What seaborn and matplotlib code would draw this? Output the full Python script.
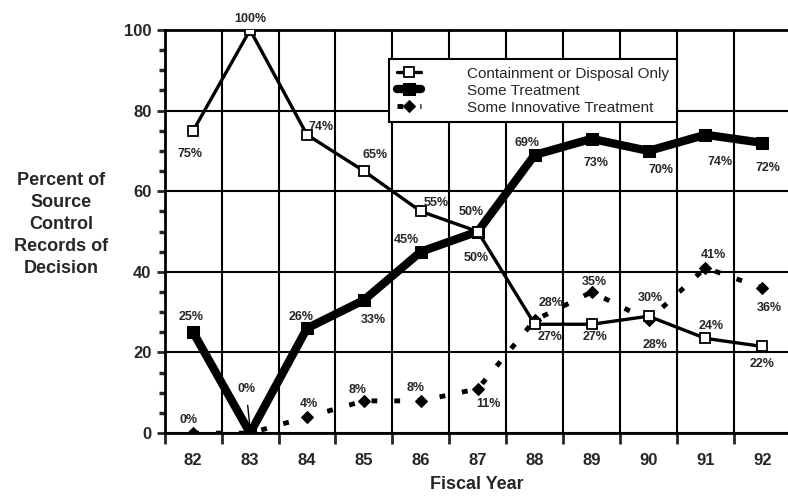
import numpy as np
import pandas as pd
import matplotlib
matplotlib.use("Agg")
import matplotlib.pyplot as plt
from matplotlib.ticker import MultipleLocator, FixedLocator
import seaborn as sns

sns.set_style("white")
plt.rcParams['font.family'] = ['Liberation Sans', 'DejaVu Sans']

years = [82, 83, 84, 85, 86, 87, 88, 89, 90, 91, 92]
containment = [75, 100, 74, 65, 55, 50, 27, 27, 29, 23.5, 21.5]
treatment = [25, 0, 26, 33, 45, 50, 69, 73, 70, 74, 72]
innovative = [0, 0, 4, 8, 8, 11, 28, 35, 28, 41, 36]

containment_lbl = ['75%', '100%', '74%', '65%', '55%', '50%', '27%', '27%', '30%', '24%', '22%']
treatment_lbl = ['25%', '', '26%', '33%', '45%', '50%', '69%', '73%', '70%', '74%', '72%']
innovative_lbl = ['0%', '', '4%', '8%', '8%', '11%', '28%', '35%', '28%', '41%', '36%']

# label offsets in pixels (dx, dy), dy positive = down
off_cont = [(-3, 23), (0, -11), (14, -8), (11, -16), (15, -8), (-7, -20), (15, 13), (3, 13), (2, -18), (6, -12), (0, 18)]
off_treat = [(-2, -15), (0, 0), (-6, -11), (9, 20), (-14, -12), (-2, 26), (-8, -12), (4, 24), (12, 19), (15, 27), (6, 25)]
off_innov = [(-5, -13), (0, 0), (2, -13), (-6, -11), (-5, -13), (11, 15), (16, -17), (3, -10), (7, 25), (8, -13), (7, 20)]

df = pd.DataFrame({'Year': years, 'Containment': containment,
                   'Treatment': treatment, 'Innovative': innovative})

fig = plt.figure(figsize=(7.88, 4.99), dpi=100)
ax = fig.add_axes([0.209, 0.132, 0.791, 0.808])

sns.lineplot(data=df, x='Year', y='Innovative', ax=ax, color='black', lw=3.5,
             dashes=False, linestyle=(0, (1.2, 3.5)), marker='D', markersize=6,
             markeredgecolor='black', label='Some Innovative Treatment', zorder=3)
sns.lineplot(data=df, x='Year', y='Treatment', ax=ax, color='black', lw=6,
             marker='s', markersize=8, markeredgecolor='black',
             label='Some Treatment', zorder=4)
sns.lineplot(data=df, x='Year', y='Containment', ax=ax, color='black', lw=2.4,
             marker='s', markersize=7, markerfacecolor='white',
             markeredgecolor='black', markeredgewidth=1.3,
             label='Containment or Disposal Only', zorder=5)

def put_labels(vals, lbls, offs):
    for x, v, t, (dx, dy) in zip(years, vals, lbls, offs):
        if t:
            ax.annotate(t, (x, v), xytext=(dx, -dy), textcoords='offset pixels',
                        ha='center', va='center', fontsize=9,
                        fontweight='bold', zorder=6)

put_labels(containment, containment_lbl, off_cont)
put_labels(treatment, treatment_lbl, off_treat)
put_labels(innovative, innovative_lbl, off_innov)
ax.annotate('0%', (83, 1), xytext=(-4, 40), textcoords='offset pixels',
            ha='center', va='center', fontsize=9, fontweight='bold',
            arrowprops=dict(arrowstyle='-', color='black', lw=1, shrinkA=5, shrinkB=4))

ax.set_xlim(81.5, 92.45)
ax.set_ylim(0, 100)
ax.xaxis.set_major_locator(FixedLocator(years))
ax.xaxis.set_minor_locator(FixedLocator(np.arange(81.5, 92.6, 1)))
ax.yaxis.set_major_locator(MultipleLocator(20))
ax.yaxis.set_minor_locator(MultipleLocator(5))
ax.tick_params(axis='x', which='major', length=0, labelsize=12, pad=14)
ax.tick_params(axis='x', which='minor', length=8, width=2, direction='out', bottom=True)
ax.tick_params(axis='y', which='major', length=6, width=2, direction='out', left=True, labelsize=12)
ax.tick_params(axis='y', which='minor', length=4, width=2.5, direction='out', left=True)
for lab in ax.get_xticklabels() + ax.get_yticklabels():
    lab.set_fontweight('bold')

ax.grid(False)
ax.grid(True, axis='x', which='minor', color='black', lw=1.5)
ax.grid(True, axis='y', which='major', color='black', lw=1.5)
for s in ['left', 'bottom', 'top']:
    ax.spines[s].set_color('black')
    ax.spines[s].set_linewidth(2)
ax.spines['right'].set_visible(False)

ax.set_xlabel('Fiscal Year', fontsize=13, fontweight='bold', labelpad=6)
ax.set_ylabel('')
fig.text(0.078, 0.55, 'Percent of\nSource\nControl\nRecords of\nDecision',
         ha='center', va='center', fontsize=13, fontweight='bold', linespacing=1.4)

handles, labels = ax.get_legend_handles_labels()
order = [2, 1, 0]
leg = ax.legend([handles[i] for i in order], [labels[i] for i in order],
                loc='upper left', bbox_to_anchor=(0.36, 0.928), fontsize=11,
                frameon=True, fancybox=False, framealpha=1, edgecolor='black',
                handlelength=1.6, borderpad=0.5, labelspacing=0.2,
                handletextpad=3.0, borderaxespad=0)
leg.get_frame().set_linewidth(1.5)
leg.set_zorder(10)

fig.savefig('out.png', dpi=100)
